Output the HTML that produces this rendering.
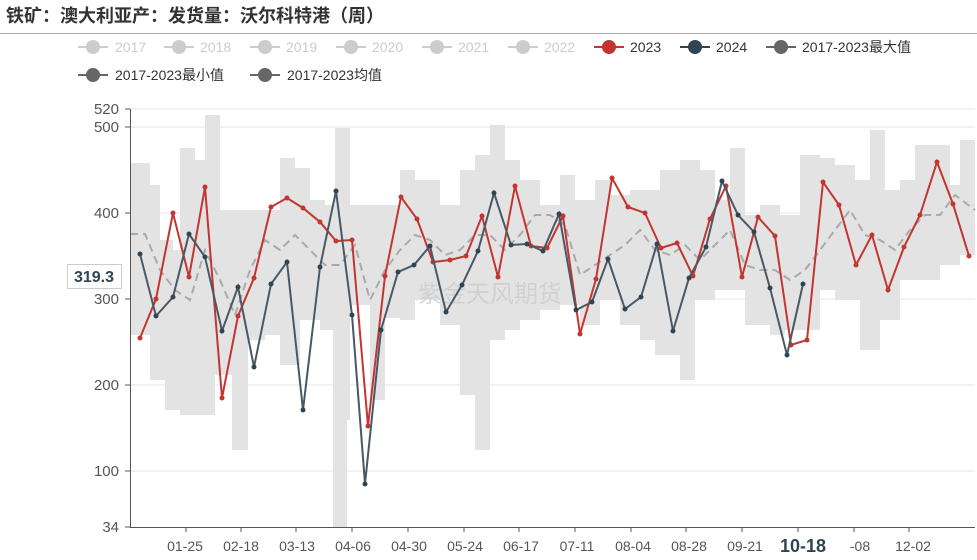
<!DOCTYPE html><html><head><meta charset="utf-8"><style>
body{margin:0;background:#fff;font-family:"Liberation Sans","Noto Sans CJK SC",sans-serif}
</style></head><body>
<svg width="977" height="555" xmlns="http://www.w3.org/2000/svg" font-family="Liberation Sans, Noto Sans CJK SC, sans-serif">
<defs>
<marker id="mr" markerWidth="6" markerHeight="6" refX="3" refY="3" markerUnits="userSpaceOnUse"><circle cx="3" cy="3" r="2.5" fill="#c23531"/></marker>
<marker id="md" markerWidth="6" markerHeight="6" refX="3" refY="3" markerUnits="userSpaceOnUse"><circle cx="3" cy="3" r="2.5" fill="#2f4554"/></marker>
</defs>
<text x="6" y="22" font-size="18" font-weight="bold" fill="#333">铁矿：澳大利亚产：发货量：沃尔科特港（周）</text>
<line x1="0" y1="33.5" x2="977" y2="33.5" stroke="#aaa"/>
<g font-size="14" fill="#ccc">
<line x1="78" y1="47" x2="108" y2="47" stroke="#ccc" stroke-width="2"/><circle cx="93" cy="47" r="7" fill="#ccc"/><text x="115" y="52">2017</text>
<line x1="164" y1="47" x2="194" y2="47" stroke="#ccc" stroke-width="2"/><circle cx="179" cy="47" r="7" fill="#ccc"/><text x="200" y="52">2018</text>
<line x1="250" y1="47" x2="280" y2="47" stroke="#ccc" stroke-width="2"/><circle cx="265" cy="47" r="7" fill="#ccc"/><text x="286" y="52">2019</text>
<line x1="336" y1="47" x2="366" y2="47" stroke="#ccc" stroke-width="2"/><circle cx="351" cy="47" r="7" fill="#ccc"/><text x="372" y="52">2020</text>
<line x1="422" y1="47" x2="452" y2="47" stroke="#ccc" stroke-width="2"/><circle cx="437" cy="47" r="7" fill="#ccc"/><text x="458" y="52">2021</text>
<line x1="508" y1="47" x2="538" y2="47" stroke="#ccc" stroke-width="2"/><circle cx="523" cy="47" r="7" fill="#ccc"/><text x="544" y="52">2022</text>
<line x1="594" y1="47" x2="624" y2="47" stroke="#c23531" stroke-width="2"/><circle cx="609" cy="47" r="7" fill="#c23531"/><text x="630" y="52" fill="#333">2023</text>
<line x1="680" y1="47" x2="710" y2="47" stroke="#2f4554" stroke-width="2"/><circle cx="695" cy="47" r="7" fill="#2f4554"/><text x="716" y="52" fill="#333">2024</text>
<line x1="766" y1="47" x2="796" y2="47" stroke="#666" stroke-width="2"/><circle cx="781" cy="47" r="7" fill="#666"/><text x="802" y="52" fill="#333">2017-2023最大值</text>
<line x1="78" y1="75" x2="108" y2="75" stroke="#666" stroke-width="2"/><circle cx="93" cy="75" r="7" fill="#666"/><text x="115" y="80" fill="#333">2017-2023最小值</text>
<line x1="250" y1="75" x2="280" y2="75" stroke="#666" stroke-width="2"/><circle cx="265" cy="75" r="7" fill="#666"/><text x="287" y="80" fill="#333">2017-2023均值</text>
</g>
<g stroke="#e6e6e6">
<line x1="130" y1="109" x2="975" y2="109"/><line x1="130" y1="127" x2="975" y2="127"/><line x1="130" y1="213" x2="975" y2="213"/><line x1="130" y1="299" x2="975" y2="299"/><line x1="130" y1="385" x2="975" y2="385"/><line x1="130" y1="471" x2="975" y2="471"/>
</g>
<g font-size="15" fill="#555" text-anchor="end">
<text x="119" y="114">520</text><text x="119" y="132">500</text><text x="119" y="218">400</text><text x="119" y="304">300</text><text x="119" y="390">200</text><text x="119" y="476">100</text><text x="119" y="532">34</text>
</g>
<path d="M130 163 L150 163 L150 185 L160 185 L160 240 L173 240 L173 250 L180 250 L180 148 L195 148 L195 160 L205 160 L205 115 L220 115 L220 210 L280 210 L280 158 L295 158 L295 168 L310 168 L310 200 L325 200 L325 205 L335 205 L335 128 L350 128 L350 205 L400 205 L400 170 L415 170 L415 180 L440 180 L440 205 L460 205 L460 170 L475 170 L475 155 L490 155 L490 125 L505 125 L505 160 L520 160 L520 180 L540 180 L540 205 L560 205 L560 175 L575 175 L575 200 L595 200 L595 180 L610 180 L610 195 L630 195 L630 190 L660 190 L660 170 L680 170 L680 160 L700 160 L700 170 L715 170 L715 200 L730 200 L730 148 L745 148 L745 215 L760 215 L760 205 L780 205 L780 215 L800 215 L800 155 L820 155 L820 158 L835 158 L835 165 L855 165 L855 180 L870 180 L870 130 L885 130 L885 190 L900 190 L900 180 L915 180 L915 145 L950 145 L950 185 L960 185 L960 140 L975 140
L975 255 L960 255 L960 265 L940 265 L940 280 L920 280 L920 280 L900 280 L900 320 L880 320 L880 350 L860 350 L860 300 L835 300 L835 290 L820 290 L820 330 L785 330 L785 335 L770 335 L770 325 L745 325 L745 290 L715 290 L715 300 L695 300 L695 380 L680 380 L680 355 L655 355 L655 340 L640 340 L640 325 L620 325 L620 300 L600 300 L600 325 L580 325 L580 305 L560 305 L560 310 L540 310 L540 320 L520 320 L520 330 L505 330 L505 340 L490 340 L490 450 L475 450 L475 395 L460 395 L460 325 L440 325 L440 300 L415 300 L415 320 L400 320 L400 318 L385 318 L385 400 L370 400 L370 305 L350 305 L350 420 L347 420 L347 527 L333 527 L333 330 L320 330 L320 320 L300 320 L300 365 L280 365 L280 335 L265 335 L265 340 L248 340 L248 450 L232 450 L232 375 L215 375 L215 415 L180 415 L180 410 L165 410 L165 380 L150 380 L150 335 L130 335 Z" fill="#e3e3e3"/>
<polyline fill="none" stroke="#aaa" stroke-width="2" stroke-dasharray="8,5" points="130,234 145,234 160,270 175,290 190,300 205,250 220,280 235,315 250,270 265,240 280,250 295,235 310,250 325,265 340,265 355,245 370,300 385,270 400,250 415,235 430,240 445,255 460,250 475,235 490,235 505,250 520,235 535,215 550,215 565,225 580,275 595,265 610,255 625,245 640,230 655,250 670,255 685,245 700,260 715,245 730,230 745,265 760,270 775,270 790,280 805,270 820,250 835,230 850,210 865,235 880,240 895,250 910,230 925,215 940,215 955,195 975,210"/>
<line x1="130" y1="527.5" x2="975" y2="527.5" stroke="#555"/>
<line x1="130.5" y1="109" x2="130.5" y2="527" stroke="#555"/>
<g stroke="#555"><line x1="125" y1="109" x2="130" y2="109"/><line x1="125" y1="127" x2="130" y2="127"/><line x1="125" y1="213" x2="130" y2="213"/><line x1="125" y1="299" x2="130" y2="299"/><line x1="125" y1="385" x2="130" y2="385"/><line x1="125" y1="471" x2="130" y2="471"/><line x1="125" y1="527" x2="130" y2="527"/></g>
<g font-size="14" fill="#555" text-anchor="middle">
<text x="185" y="551">01-25</text><text x="241" y="551">02-18</text><text x="297" y="551">03-13</text><text x="353" y="551">04-06</text><text x="409" y="551">04-30</text><text x="465" y="551">05-24</text><text x="521" y="551">06-17</text><text x="577" y="551">07-11</text><text x="633" y="551">08-04</text><text x="689" y="551">08-28</text><text x="745" y="551">09-21</text><text x="803" y="552" font-size="18" font-weight="bold" fill="#2f4554">10-18</text><text x="860" y="551">-08</text><text x="913" y="551">12-02</text>
</g>
<g stroke="#555"><line x1="186" y1="527" x2="186" y2="532"/><line x1="241" y1="527" x2="241" y2="532"/><line x1="296" y1="527" x2="296" y2="532"/><line x1="352" y1="527" x2="352" y2="532"/><line x1="408" y1="527" x2="408" y2="532"/><line x1="464" y1="527" x2="464" y2="532"/><line x1="519" y1="527" x2="519" y2="532"/><line x1="575" y1="527" x2="575" y2="532"/><line x1="631" y1="527" x2="631" y2="532"/><line x1="686" y1="527" x2="686" y2="532"/><line x1="742" y1="527" x2="742" y2="532"/><line x1="798" y1="527" x2="798" y2="532"/><line x1="854" y1="527" x2="854" y2="532"/><line x1="909" y1="527" x2="909" y2="532"/></g>
<text x="490" y="302" font-size="24" fill="#ccc" fill-opacity="0.8" text-anchor="middle">紫金天风期货</text>
<polyline fill="none" stroke="#c23531" stroke-width="2" marker-start="url(#mr)" marker-mid="url(#mr)" marker-end="url(#mr)" points="140,338 156,299 173,213 189,277 205,187 222,398 238,316 254,278 271,207 287,198 303,208 320,222 336,241 352,240 368,426 385,276 401,197 417,219 433,262 450,260 466,256 482,216 498,277 515,186 531,246 547,248 563,216 580,334 596,279 612,178 628,207 645,213 661,248 677,243 693,276 710,219 726,186 742,277 758,217 775,236 791,345 807,340 823,182 839,205 856,265 872,235 888,290 904,247 920,215 937,162 953,204 969,256"/>
<polyline fill="none" stroke="#4a5866" stroke-width="2" marker-start="url(#md)" marker-mid="url(#md)" marker-end="url(#md)" points="140,254 156,316 173,297 189,234 205,257 222,331 238,287 254,367 271,284 287,262 303,410 320,267 336,191 352,315 365,484 381,330 398,272 414,265 430,246 446,312 462,285 478,251 494,193 511,245 527,244 543,251 559,214 576,310 592,302 608,259 625,309 641,297 657,244 673,331 689,278 706,247 722,181 738,215 754,232 770,288 787,355 803,284"/>
<rect x="67.5" y="264.5" width="54" height="24" fill="#fff" stroke="#ccc"/>
<text x="94" y="282" font-size="16" font-weight="bold" fill="#2f4554" text-anchor="middle">319.3</text>
</svg>
</body></html>
